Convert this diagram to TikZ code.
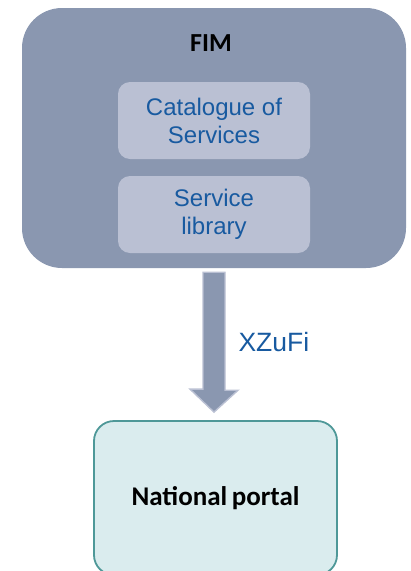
\documentclass[tikz,border=0pt]{standalone}
\usepackage{fontspec}
\setmainfont{Liberation Sans}
\newfontfamily\calfont{Carlito}
\usepackage{xcolor}
\usetikzlibrary{calc}
\definecolor{fimgray}{RGB}{138,151,176}
\definecolor{boxgray}{RGB}{186,192,211}
\definecolor{textblue}{RGB}{24,90,160}
\definecolor{portalfill}{RGB}{218,236,238}
\definecolor{portalline}{RGB}{78,152,152}

\begin{document}
\begin{tikzpicture}[x=1pt,y=-1pt,
    fimbox/.style={fill=fimgray,rounded corners=40pt,minimum width=384pt,minimum height=260pt},
    innerbox/.style={fill=boxgray,rounded corners=12pt,minimum width=192pt,minimum height=77pt,
        align=center,text=textblue,font=\fontsize{24}{28}\selectfont},
    portalbox/.style={fill=portalfill,draw=portalline,line width=1.8pt,rounded corners=20pt,
        minimum width=243pt,minimum height=154pt,font=\calfont\bfseries\fontsize{27}{30}\selectfont},
    flowarrow/.style={fill=fimgray,draw=boxgray,line width=1.4pt,line join=miter}]
    \clip (0,0) rectangle (411,571);
    \node[fimbox] (fim) at (214,138) {};
    \node[font=\calfont\bfseries\fontsize{26}{30}\selectfont] (fimlabel) at (211,43) {FIM};
    \node[innerbox] (catalogue) at (214,120.5) {Catalogue of\\Services};
    \node[innerbox] (library) at (214,214.5) {Service\\library};
    \node[portalbox] (portal) at (215.5,498) {National\,portal};
    % block arrow between the two
    \coordinate (tip) at ($(fim.south |- portal.north)+(0,-8)$);
    \draw[flowarrow] ($(fim.south)+(-11,4)$) -- ++(22,0) -- ++(0,118) -- ++(13,0)
        -- (tip) -- ($(tip)+(-24,-23)$) -- ++(13,0) -- cycle;
    \node[anchor=west,text=textblue,font=\fontsize{26.5}{30}\selectfont] (xzufi) at (235,342) {XZuFi};
\end{tikzpicture}
\end{document}
